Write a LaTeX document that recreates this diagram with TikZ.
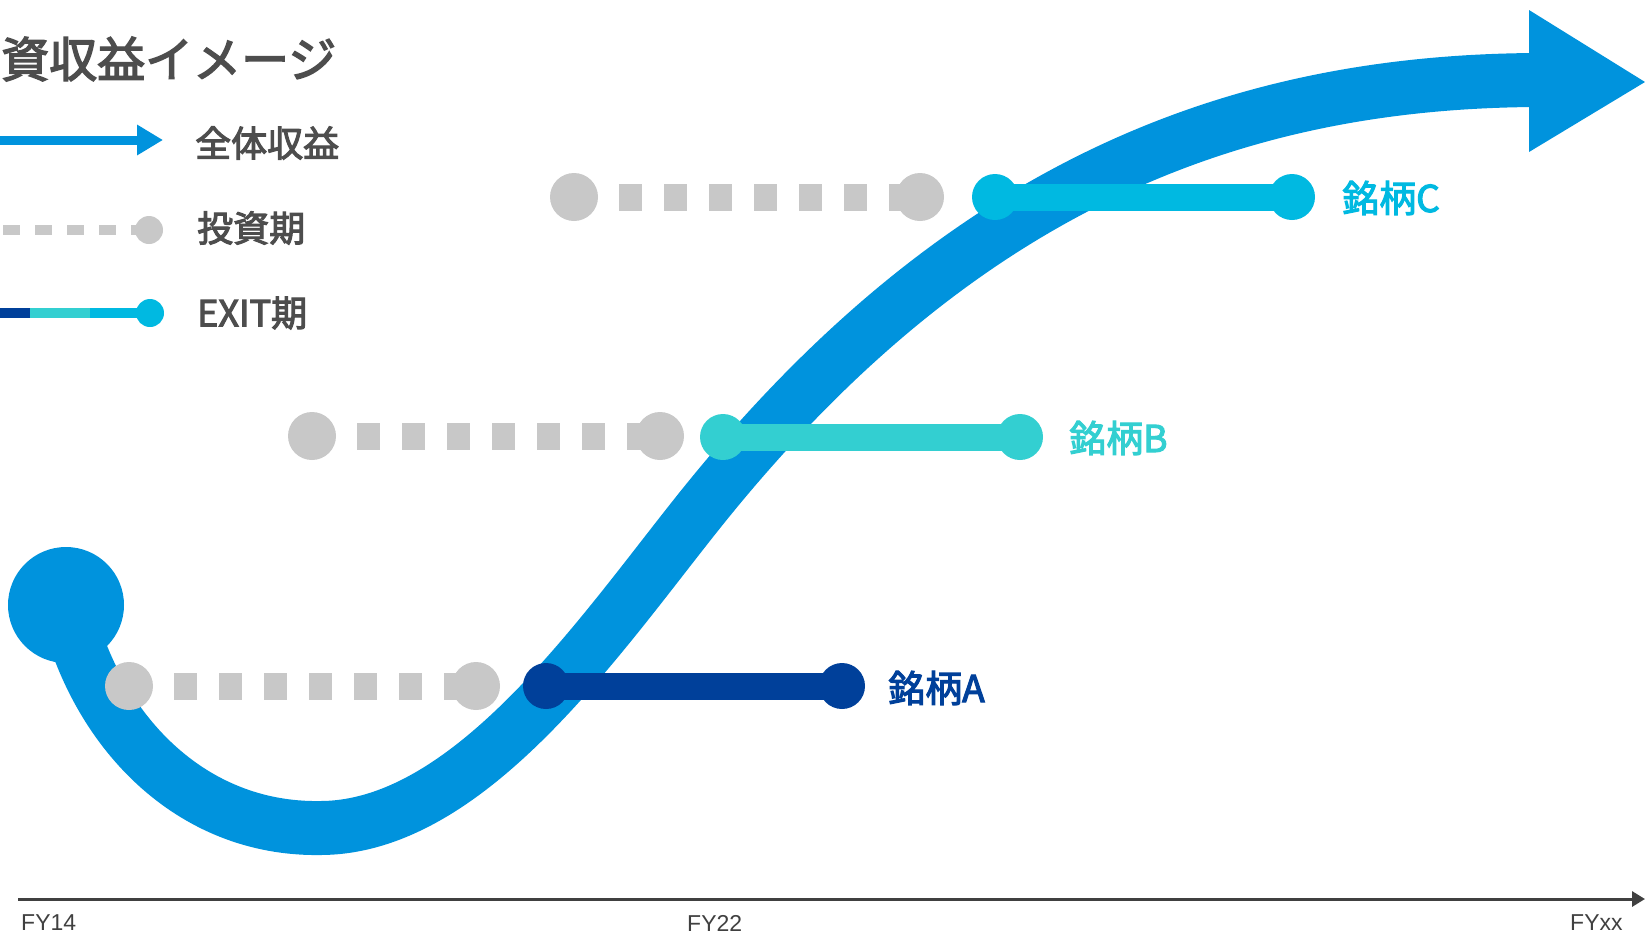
\documentclass[tikz,border=0pt]{standalone}
\usepackage{fontspec}
\setmainfont{Noto Sans CJK JP}
\newfontfamily\jpfont{Noto Sans CJK JP}[FakeBold=3]
\newfontfamily\axfont{Liberation Sans}
\usetikzlibrary{arrows.meta}
\definecolor{mainblue}{HTML}{0093DD}
\definecolor{colA}{HTML}{00409A}
\definecolor{colB}{HTML}{33CFD1}
\definecolor{colC}{HTML}{00B9E1}
\definecolor{grayc}{HTML}{C8C8C8}
\definecolor{txt}{HTML}{4D4D4D}
\definecolor{axisc}{HTML}{404040}
\begin{document}
\begin{tikzpicture}[x=1pt,y=-1pt,
  cdot/.style={circle,inner sep=0pt,minimum size=46pt,fill=#1},
  graydot/.style={circle,inner sep=0pt,minimum size=48pt,fill=grayc},
  invest/.style={grayc,line width=27pt,dash pattern=on 23pt off 22pt,dash phase=23pt,shorten <=23pt},
  exitline/.style={#1,line width=27pt},
  brandtxt/.style={anchor=west,inner sep=0pt,font=\jpfont\fontsize{37}{40}\selectfont},
  legtxt/.style={anchor=west,inner sep=0pt,text=txt,font=\jpfont\fontsize{36}{40}\selectfont},
  axtxt/.style={anchor=west,inner sep=0pt,text=axisc,font=\axfont\fontsize{23}{26}\selectfont}
]
\useasboundingbox (0,0) rectangle (1645,935);

% title
\node[anchor=west,inner sep=0pt,text=txt,font=\jpfont\fontsize{48}{50}\selectfont] (title) at (1,59) {資収益イメージ};

% legend
\coordinate (l1s) at (0,140);
\coordinate (l1e) at (163,140);
\draw[mainblue,line width=9pt,-{Triangle[length=26pt,width=29pt]}] (l1s) -- (l1e);
\node[legtxt] (lg1) at (195,143) {全体収益};

\coordinate (l2s) at (3,230);
\node[circle,inner sep=0pt,minimum size=28pt,fill=grayc] (l2d) at (149,230) {};
\draw[grayc,line width=10pt,dash pattern=on 17pt off 15pt] (l2s) -- (l2d.center);
\node[legtxt] (lg2) at (197,228) {投資期};

\coordinate (l3a) at (0,313);
\coordinate (l3b) at (30,313);
\coordinate (l3c) at (90,313);
\node[circle,inner sep=0pt,minimum size=28pt,fill=colC] (l3d) at (150,313) {};
\draw[colA,line width=10pt] (l3a) -- (l3b);
\draw[colB,line width=10pt] (l3b) -- (l3c);
\draw[colC,line width=10pt] (l3c) -- (l3d.center);
\node[legtxt] (lg3) at (197,313) {EXIT期};

% axis
\coordinate (ax0) at (18,899);
\coordinate (ax1) at (1645,899);
\draw[axisc,line width=3pt,-{Triangle[length=13pt,width=15pt]}] (ax0) -- (ax1);
\node[axtxt] (fy14) at (21,923) {FY14};
\node[axtxt] (fy22) at (687,923) {FY22};
\node[axtxt] (fyxx) at (1570,923) {FYxx};

% main curve
\node[circle,fill=mainblue,minimum size=116pt,inner sep=0pt] (start) at (66,605) {};
\coordinate (arrbase) at (1535,80);
\draw[mainblue,line width=54pt] (start.center) .. controls (95,730) and (190,830) .. (320,828)
  .. controls (470,828) and (600,635) .. (700,510)
  .. controls (960,185) and (1235,82) .. (arrbase);
\fill[mainblue] (1529,10) -- (1645,82) -- (1529,152) -- cycle;

% A
\node[graydot] (ga1) at (129,686) {};
\node[graydot] (ga2) at (476,686) {};
\draw[invest] (ga1.center) -- (ga2.center);
\node[cdot=colA] (ea1) at (546,686) {};
\node[cdot=colA] (ea2) at (842,686) {};
\draw[exitline=colA] (ea1.center) -- (ea2.center);
\node[brandtxt,text=colA] (ta) at (888,688) {銘柄A};

% B
\node[graydot] (gb1) at (312,436) {};
\node[graydot] (gb2) at (660,436) {};
\draw[invest] (gb1.center) -- (gb2.center);
\node[cdot=colB] (eb1) at (723,437) {};
\node[cdot=colB] (eb2) at (1020,437) {};
\draw[exitline=colB] (eb1.center) -- (eb2.center);
\node[brandtxt,text=colB] (tb) at (1069,438) {銘柄B};

% C
\node[graydot] (gc1) at (574,197) {};
\node[graydot] (gc2) at (920,197) {};
\draw[invest] (gc1.center) -- (gc2.center);
\node[cdot=colC] (ec1) at (995,197) {};
\node[cdot=colC] (ec2) at (1292,197) {};
\draw[exitline=colC] (ec1.center) -- (ec2.center);
\node[brandtxt,text=colC] (tc) at (1342,198) {銘柄C};
\end{tikzpicture}
\end{document}
